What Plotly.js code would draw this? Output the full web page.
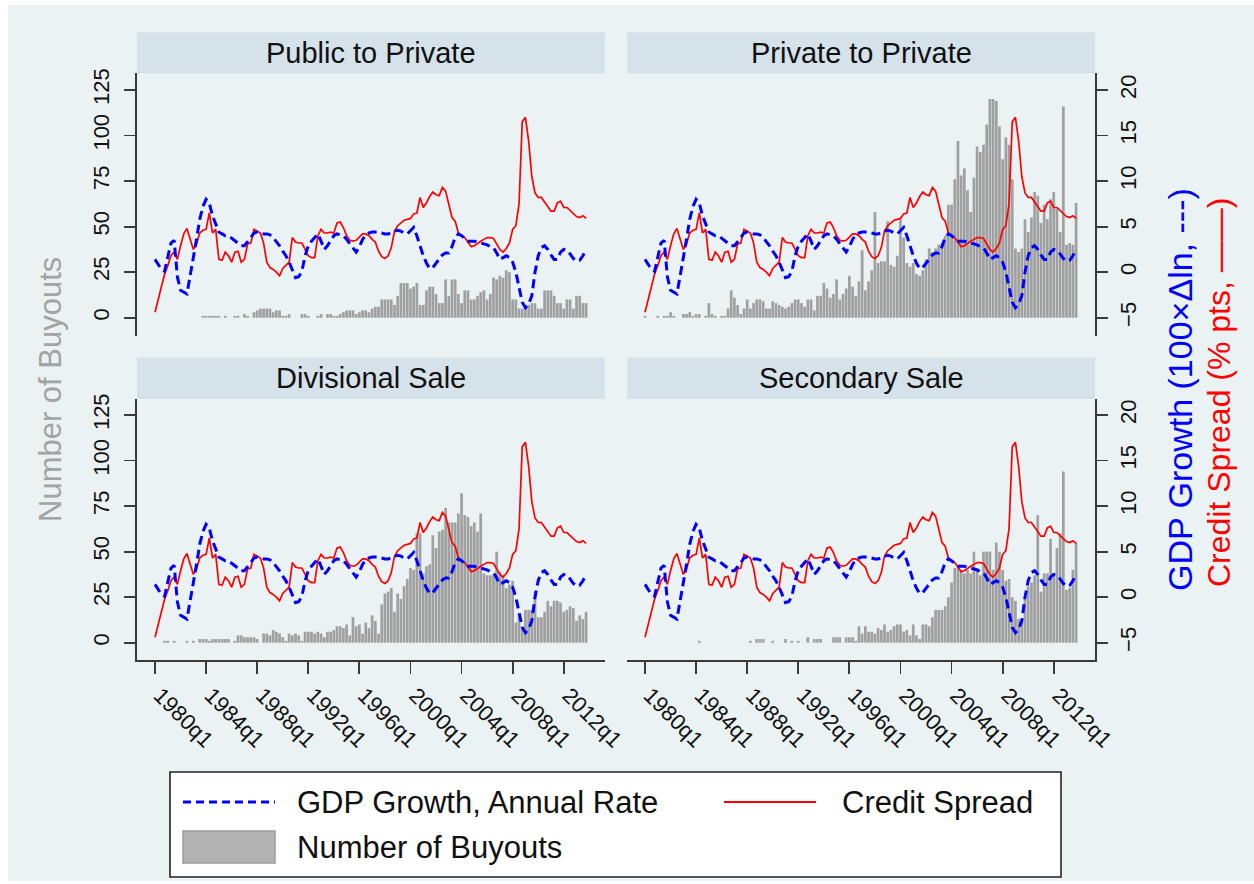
<!DOCTYPE html>
<html><head><meta charset="utf-8">
<script src="https://cdn.plot.ly/plotly-3.0.1.min.js"></script>
<style>html,body{margin:0;padding:0;background:#ffffff;} #chart{width:1254px;height:884px;}</style>
</head><body><div id="chart"></div>
<script>
// ---------------- data (quarterly, 1980q1 .. 2013q4) ----------------
const startYear = 1980;
const gdpGrowth = [
 1.4, 0.8, 0.3, 0.1, 1.5, 3.2, 3.5, -0.5, -2.0, -2.2,
 -2.4, -0.4, 1.4, 3.6, 5.8, 7.2, 8.0, 7.6, 6.2, 5.2,
 4.4, 4.2, 4.0, 4.0, 3.7, 3.4, 3.2, 2.9, 2.9, 3.3,
 3.8, 4.3, 4.4, 4.3, 4.2, 4.2, 4.1, 3.8, 3.4, 2.9,
 2.3, 1.8, 1.1, 0.3, -0.6, -0.5, 0.1, 1.8, 2.9, 3.4,
 3.8, 4.2, 3.4, 2.5, 2.9, 3.4, 4.0, 4.2, 4.1, 4.0,
 3.6, 3.1, 2.6, 2.2, 2.8, 3.6, 4.1, 4.3, 4.4, 4.4,
 4.4, 4.3, 4.2, 4.2, 4.3, 4.5, 4.6, 4.5, 4.3, 4.2,
 4.5, 4.9, 4.0, 2.9, 1.8, 1.0, 0.4, 0.5, 1.0, 1.5,
 1.9, 2.1, 2.1, 2.8, 3.8, 4.2, 4.0, 3.7, 3.4, 3.4,
 3.4, 3.3, 3.2, 3.1, 3.0, 2.8, 2.7, 2.1, 1.4, 1.6,
 1.8, 1.6, 1.1, 0.0, -1.8, -3.3, -3.9, -3.5, -2.6, 0.0,
 1.8, 2.7, 2.9, 2.5, 1.9, 1.4, 1.4, 2.2, 2.5, 2.4,
 2.0, 1.5, 1.2, 1.3, 1.8, 2.5
];
const creditSpread = [
 -4.4, -3.0, -1.6, -0.2, 0.7, 1.8, 2.2, 1.4, 2.9, 4.2,
 4.8, 3.6, 2.5, 3.1, 4.3, 4.6, 4.7, 6.5, 4.3, 4.7,
 1.4, 1.3, 2.2, 1.8, 1.1, 2.2, 2.3, 1.1, 1.4, 3.1,
 3.2, 4.7, 4.5, 4.3, 3.2, 1.1, 0.5, 0.3, 0.0, -0.4,
 0.4, 0.7, 1.1, 3.8, 3.3, 3.2, 3.2, 2.5, 1.8, 1.6,
 1.6, 4.0, 4.7, 4.3, 4.3, 4.4, 4.3, 5.4, 5.5, 4.9,
 4.0, 3.5, 3.4, 3.5, 3.8, 4.2, 4.2, 4.0, 3.6, 3.3,
 2.3, 1.7, 1.5, 1.8, 2.7, 4.5, 5.1, 5.4, 5.7, 5.8,
 5.9, 6.4, 6.5, 8.2, 7.1, 7.6, 8.3, 8.8, 8.5, 8.4,
 9.3, 8.9, 7.6, 6.0, 5.6, 4.3, 4.0, 3.8, 3.3, 2.8,
 2.9, 3.2, 3.4, 3.6, 3.8, 3.8, 3.7, 3.1, 2.5, 2.2,
 2.6, 3.2, 4.7, 5.1, 7.5, 16.5, 17.0, 14.4, 10.5, 8.7,
 8.2, 8.2, 7.7, 7.3, 6.7, 6.7, 7.6, 7.8, 7.1, 7.1,
 6.8, 6.5, 6.1, 6.0, 6.2, 5.9
];
const publicToPrivate = [
 0,0,0,0,0,0,0,0,0,0,
 0,0,0,0,0,1,1,1,1,1,
 1,0,1,0,0,1,1,0,2,1,
 0,3,4,5,5,5,5,3,4,4,
 1,1,2,0,0,0,2,2,1,0,
 0,1,2,0,2,2,1,1,2,3,
 4,4,4,2,3,4,4,3,5,6,
 6,10,10,10,10,7,12,19,19,19,
 16,17,19,7,7,15,17,17,13,8,
 8,21,12,21,21,13,8,15,15,10,
 10,12,14,15,10,13,22,21,23,22,
 26,25,10,10,5,5,7,7,8,8,
 5,5,15,15,15,12,8,8,5,10,
 10,5,12,12,8,8
];
const privateToPrivate = [
 1,0,0,0,1,0,1,1,3,1,
 0,0,2,2,3,1,2,2,0,1,
 8,2,1,0,1,1,5,15,11,7,
 2,5,10,5,8,10,10,9,5,5,
 9,8,7,6,5,6,8,10,10,8,
 6,10,10,4,12,12,19,16,11,13,
 21,10,13,16,23,17,12,20,37,15,
 20,26,58,30,31,31,53,29,28,34,
 54,44,30,28,30,24,23,26,32,38,
 36,38,40,41,45,62,62,76,97,78,
 82,70,58,77,94,91,95,106,120,120,
 119,105,87,99,95,76,38,36,38,54,
 47,55,69,67,52,62,54,65,69,60,
 47,116,40,41,40,63
];
const divisionalSale = [
 0,0,0,1,1,0,1,0,0,0,
 1,0,1,0,2,2,2,1,2,2,
 2,2,2,2,0,1,4,4,3,3,
 3,3,2,0,5,5,4,7,6,5,
 3,1,5,4,5,4,1,6,6,6,
 5,6,5,3,6,6,7,9,9,8,
 10,4,14,9,10,5,11,8,15,12,
 5,21,27,28,30,17,27,24,31,35,
 41,40,60,60,38,42,43,59,52,61,
 62,74,66,66,66,71,82,70,69,64,
 66,61,71,38,37,37,37,50,39,37,
 30,32,34,11,16,9,18,18,18,28,
 14,14,17,23,20,23,23,22,17,18,
 20,19,12,15,13,17
];
const secondarySale = [
 0,0,0,0,0,0,0,0,0,0,
 0,0,0,0,0,0,0,1,0,0,
 0,0,0,0,0,0,0,0,0,0,
 0,0,0,1,0,2,2,2,0,0,
 1,0,0,0,2,0,1,0,1,0,
 0,3,0,2,2,2,0,0,0,3,
 3,3,0,3,3,3,1,9,5,9,
 6,6,5,8,7,10,6,7,9,10,
 10,6,7,4,10,4,2,10,10,9,
 14,18,18,18,20,25,33,41,41,40,
 38,40,38,50,41,37,50,50,50,40,
 55,50,40,34,35,25,23,13,13,24,
 31,33,37,70,28,38,38,57,38,52,
 60,94,29,30,40,55
];
const panelTitles = ['Public to Private', 'Private to Private', 'Divisional Sale', 'Secondary Sale'];
const tickYears = [1980, 1984, 1988, 1992, 1996, 2000, 2004, 2008, 2012];
const tickLabels = tickYears.map(y => y + 'q1');
const leftTicks = [0, 25, 50, 75, 100, 125];
const rightTicks = [-5, 0, 5, 10, 15, 20];
const legendLabels = ['GDP Growth, Annual Rate', 'Credit Spread', 'Number of Buyouts'];
const leftTitle = 'Number of Buyouts';
const rightTitleBlue = 'GDP Growth (100×Δln, ---)';
const rightTitleRed = 'Credit Spread (% pts, ——)';

// ---------------- layout helpers ----------------
const W = 1254, H = 884;
const fx = X => X / W;
const fy = Y => 1 - Y / H;
const FONT = 'Liberation Sans, Arial, Helvetica, sans-serif';
const BG = 'rgb(234,242,243)';
const STRIP = 'rgb(214,226,233)';
const GRID = 'rgb(234,242,243)';
const AXC = '#3a3a3a';

const quarters = gdpGrowth.map((_, i) => startYear + i / 4);
const xRange = [1978.59, 2015.23];
const topRange = [-10.05, 134.17];
const botRange = [-9.5, 133.8];
const toRight = r => [r[0] / 5 - 5, r[1] / 5 - 5];

const colL = [137, 605], colR = [627, 1095];
const rowTop = [73.3, 336], rowBot = [399, 660];
const headTop = [32.3, 73.3], headBot = [357.5, 399];

const series = [publicToPrivate, privateToPrivate, divisionalSale, secondarySale];
const panels = [
  {col: colL, row: rowTop, head: headTop, yr: topRange, left: true,  bottom: false},
  {col: colR, row: rowTop, head: headTop, yr: topRange, left: false, bottom: false},
  {col: colL, row: rowBot, head: headBot, yr: botRange, left: true,  bottom: true},
  {col: colR, row: rowBot, head: headBot, yr: botRange, left: false, bottom: true}
];

const traces = [];
const layout = {
  width: W, height: H,
  margin: {l: 0, r: 0, t: 0, b: 0},
  paper_bgcolor: '#ffffff',
  plot_bgcolor: '#ffffff',
  showlegend: false,
  bargap: 0.15,
  font: {family: FONT, color: '#111111'},
  shapes: [],
  annotations: []
};

// background frame
layout.shapes.push({type: 'rect', xref: 'paper', yref: 'paper', x0: fx(8), x1: 1, y0: fy(881), y1: fy(5),
  fillcolor: BG, line: {width: 0}, layer: 'below'});

panels.forEach((p, k) => {
  const n = k + 1;
  const xs = n === 1 ? '' : String(n);
  const ov = String(n + 4);
  const xd = [fx(p.col[0]), fx(p.col[1])];
  const yd = [fy(p.row[1]), fy(p.row[0])];

  traces.push({type: 'bar', x: quarters, y: series[k], xaxis: 'x' + xs, yaxis: 'y' + xs,
    marker: {color: '#a0a0a0', line: {width: 0}}, hoverinfo: 'skip'});
  traces.push({type: 'scatter', mode: 'lines', x: quarters, y: creditSpread, xaxis: 'x' + xs, yaxis: 'y' + ov,
    line: {color: '#ff0000', width: 1.7}, hoverinfo: 'skip'});
  traces.push({type: 'scatter', mode: 'lines', x: quarters, y: gdpGrowth, xaxis: 'x' + xs, yaxis: 'y' + ov,
    line: {color: '#0000ff', width: 3, dash: '9px,5px'}, hoverinfo: 'skip'});

  layout['xaxis' + xs] = {
    domain: xd, range: xRange, anchor: 'y' + xs, automargin: false,
    showgrid: false, zeroline: false,
    showline: p.bottom, linecolor: AXC, linewidth: 1.8,
    ticks: p.bottom ? 'outside' : '', ticklen: 12, tickwidth: 1.8, tickcolor: AXC,
    tickmode: 'array', tickvals: tickYears, ticktext: tickLabels,
    showticklabels: p.bottom, tickangle: 45, ticklabelshift: 5,
    tickfont: {family: FONT, size: 22, color: '#111111'}
  };
  layout['yaxis' + xs] = {
    domain: yd, range: p.yr, anchor: 'x' + xs, automargin: false,
    showgrid: true, gridcolor: GRID, gridwidth: 1.8, zeroline: false,
    tickmode: 'array', tickvals: leftTicks,
    showline: p.left, linecolor: AXC, linewidth: 1.8,
    ticks: p.left ? 'outside' : '', ticklen: 11, tickwidth: 1.8, tickcolor: AXC,
    showticklabels: p.left, tickangle: -90, ticklabelstandoff: 6,
    tickfont: {family: FONT, size: 22, color: '#111111'}
  };
  layout['yaxis' + ov] = {
    overlaying: 'y' + xs, anchor: 'x' + xs, side: 'right', range: toRight(p.yr), automargin: false,
    showgrid: false, zeroline: false,
    tickmode: 'array', tickvals: rightTicks,
    showline: !p.left, linecolor: AXC, linewidth: 1.8,
    ticks: !p.left ? 'outside' : '', ticklen: 11, tickwidth: 1.8, tickcolor: AXC,
    showticklabels: !p.left, tickangle: -90, ticklabelstandoff: 2,
    tickfont: {family: FONT, size: 22, color: '#111111'}
  };

  // header strip
  layout.shapes.push({type: 'rect', xref: 'paper', yref: 'paper', x0: xd[0], x1: xd[1],
    y0: fy(p.head[1]), y1: fy(p.head[0]), fillcolor: STRIP, line: {width: 0}, layer: 'below'});
  layout.annotations.push({xref: 'paper', yref: 'paper', x: (xd[0] + xd[1]) / 2, y: fy((p.head[0] + p.head[1]) / 2),
    text: panelTitles[k], showarrow: false, xanchor: 'center', yanchor: 'middle',
    font: {family: FONT, size: 29, color: '#111111'}});
});

// axis titles
layout.annotations.push({xref: 'paper', yref: 'paper', x: fx(50), y: fy(390), text: leftTitle, textangle: -90,
  showarrow: false, xanchor: 'center', yanchor: 'middle', font: {family: FONT, size: 31, color: '#a3a3a3'}});
layout.annotations.push({xref: 'paper', yref: 'paper', x: fx(1180), y: fy(390), text: rightTitleBlue, textangle: -90,
  showarrow: false, xanchor: 'center', yanchor: 'middle', font: {family: FONT, size: 34, color: '#0000ff'}});
layout.annotations.push({xref: 'paper', yref: 'paper', x: fx(1219), y: fy(393), text: rightTitleRed, textangle: -90,
  showarrow: false, xanchor: 'center', yanchor: 'middle', font: {family: FONT, size: 32, color: '#ff0000'}});

// legend box
layout.shapes.push({type: 'rect', xref: 'paper', yref: 'paper', x0: fx(170), x1: fx(1061), y0: fy(877), y1: fy(772),
  fillcolor: '#ffffff', line: {color: '#222222', width: 1.6}});
layout.shapes.push({type: 'line', xref: 'paper', yref: 'paper', x0: fx(183), x1: fx(275), y0: fy(802), y1: fy(802),
  line: {color: '#0000ff', width: 3, dash: '8px,5px'}});
layout.shapes.push({type: 'line', xref: 'paper', yref: 'paper', x0: fx(724), x1: fx(816), y0: fy(802), y1: fy(802),
  line: {color: '#ff0000', width: 2}});
layout.shapes.push({type: 'rect', xref: 'paper', yref: 'paper', x0: fx(183), x1: fx(275), y0: fy(863), y1: fy(831),
  fillcolor: '#b3b3b3', line: {color: '#9c9c9c', width: 1.5}});
const legPos = [[295, 802], [840, 802], [295, 847]];
legendLabels.forEach((t, i) => {
  layout.annotations.push({xref: 'paper', yref: 'paper', x: fx(legPos[i][0]), y: fy(legPos[i][1]), text: t,
    showarrow: false, xanchor: 'left', yanchor: 'middle', font: {family: FONT, size: 31, color: '#111111'}});
});

Plotly.newPlot('chart', traces, layout, {displayModeBar: false, staticPlot: true});
</script>
</body></html>
